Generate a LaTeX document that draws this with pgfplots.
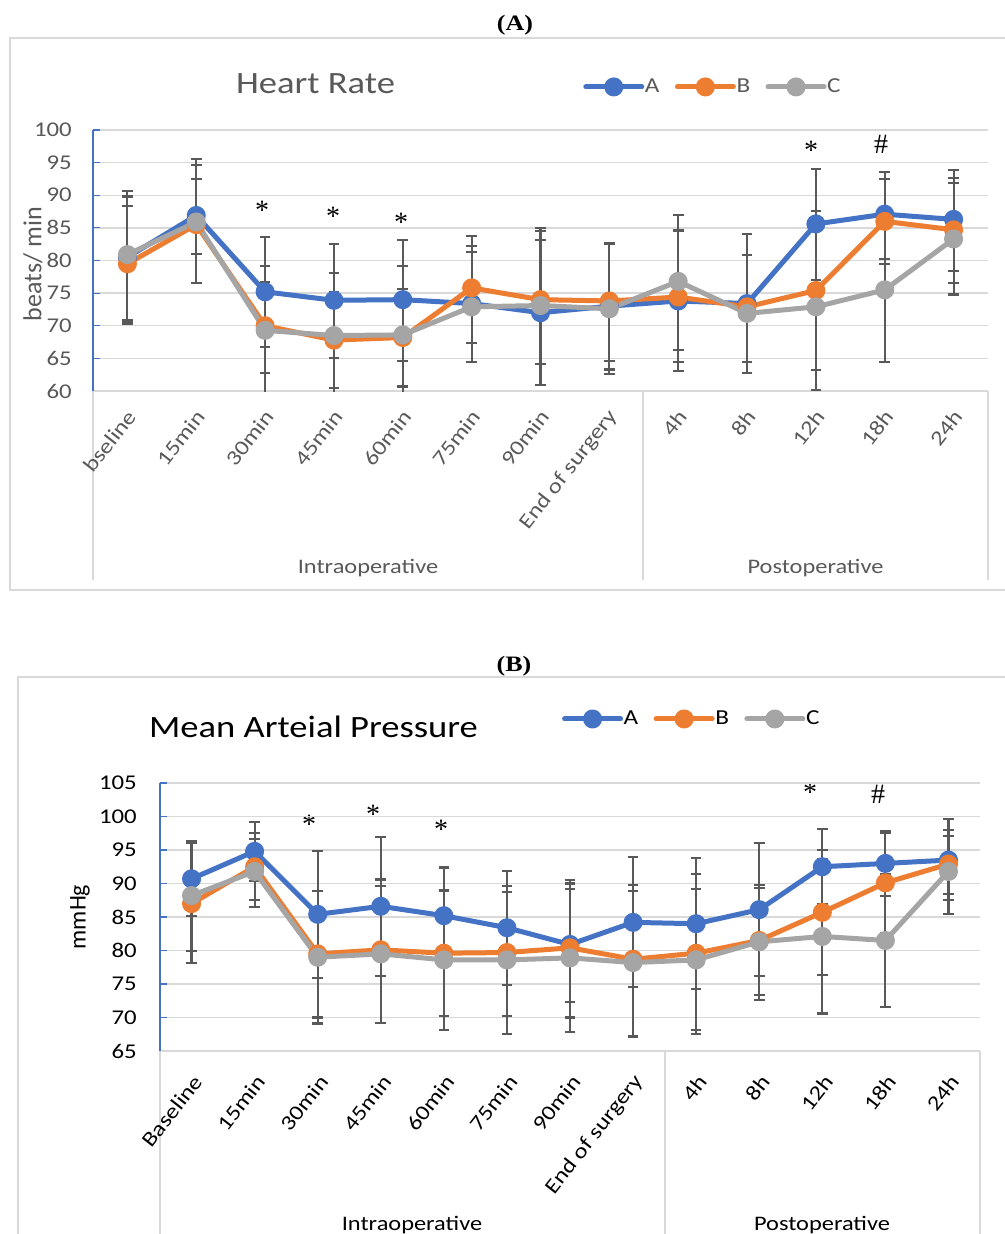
\documentclass[border=0pt]{standalone}
\usepackage{pgfplots}
\pgfplotsset{compat=1.18}
\usepackage{pgfplotstable}
\usepackage{fontspec}
\setmainfont{Carlito}[FakeStretch=1.18]
\newfontfamily\plainfont{Carlito}
\newfontfamily\serifb{Liberation Serif}[FakeStretch=1.18]
\newfontfamily\serifp{Liberation Serif}

\definecolor{cA}{HTML}{4472C4}
\definecolor{cB}{HTML}{ED7D31}
\definecolor{cC}{HTML}{A5A5A5}
\definecolor{eg}{HTML}{595959}
\definecolor{gl}{HTML}{D9D9D9}
\definecolor{tg}{HTML}{595959}

% Heart rate: x, mean, error plus, error minus
\pgfplotstableread{
x y ep em
0 80.5 10.2 10.2
1 86.9 5.6 5.9
2 75.2 8.4 8.4
3 73.9 8.6 8.8
4 74.0 9.2 9.4
5 73.4 8.8 9.0
6 72.0 11.2 11.1
7 73.0 9.7 9.7
8 73.8 10.8 10.8
9 73.4 10.6 10.6
10 85.6 8.4 8.6
11 87.1 6.4 6.9
12 86.3 7.6 7.9
}\hrA
\pgfplotstableread{
x y ep em
0 79.5 8.8 8.9
1 85.5 9.2 8.9
2 70.0 9.1 10.5
3 67.8 7.3 7.4
4 68.2 7.4 7.5
5 75.8 8.0 8.5
6 74.0 10.5 9.9
7 73.8 8.7 9.2
8 74.4 10.1 10.0
9 72.9 8.0 8.5
10 75.4 12.2 12.2
11 86.0 6.5 6.6
12 84.7 8.0 8.1
}\hrB
\pgfplotstableread{
x y ep em
0 80.9 8.9 10.0
1 85.9 9.6 9.3
2 69.3 7.4 6.5
3 68.5 9.6 9.6
4 68.6 10.5 10.5
5 72.9 8.4 8.5
6 73.1 11.9 12.2
7 72.6 10.0 10.0
8 76.8 10.2 10.5
9 71.9 9.0 9.2
10 72.9 12.6 12.7
11 75.5 11.0 11.1
12 83.3 8.6 8.5
}\hrC
% Mean arterial pressure
\pgfplotstableread{
x y ep em
0 90.7 5.5 5.5
1 94.8 4.4 4.4
2 85.4 9.5 9.5
3 86.6 10.4 10.4
4 85.2 7.2 7.2
5 83.4 8.5 8.5
6 80.9 9.6 8.6
7 84.2 9.7 9.7
8 84.0 9.75 9.75
9 86.1 10.0 9.9
10 92.5 5.6 5.6
11 93.0 4.8 4.8
12 93.5 6.1 6.0
}\mapA
\pgfplotstableread{
x y ep em
0 87.0 9.1 8.9
1 92.5 5.0 5.0
2 79.5 9.4 9.5
3 80.1 10.5 10.9
4 79.6 9.3 9.4
5 79.7 9.9 9.5
6 80.4 9.6 10.4
7 78.7 11.1 11.4
8 79.6 11.8 11.4
9 81.5 8.3 8.1
10 85.7 9.3 9.3
11 90.1 7.5 7.5
12 92.9 5.1 4.5
}\mapB
\pgfplotstableread{
x y ep em
0 88.2 8.1 8.3
1 91.8 4.9 5.3
2 79.0 9.9 9.9
3 79.5 10.1 10.3
4 78.6 10.4 10.4
5 78.6 10.1 11.0
6 78.9 10.3 11.1
7 78.2 10.7 11.1
8 78.6 10.6 11.1
9 81.3 8.0 8.7
10 82.1 11.5 11.5
11 81.5 9.9 9.9
12 91.8 5.3 6.3
}\mapC

\pgfplotsset{
  base/.style={
    scale only axis, xmin=-0.5, xmax=12.5,
    axis x line*=bottom, axis y line*=left,
    axis line style={-},
    x axis line style={draw=gl, line width=1.1pt},
    y axis line style={draw=cA, line width=0.8pt},
    ymajorgrids, grid style={draw=gl, line width=1.1pt},
    xtick={0,...,12},
    xtick style={draw=none},
    ytick style={draw=cA, line width=0.8pt},
    tick align=inside, major tick length=5pt,
    /pgf/number format/assume math mode=true,
    xticklabel style={rotate=52, anchor=east, inner sep=0pt},
    yticklabel style={anchor=east, inner sep=0pt},
    legend cell align=left,
    legend image code/.code={\draw[mark repeat=2,mark phase=2,line cap=round] plot coordinates {(0pt,0pt) (21pt,0pt) (42pt,0pt)};},
  },
  ln/.style={line width=3.75pt, line cap=round, line join=round, mark=*, mark size=5.25pt, mark options={solid}},
  eb/.style={forget plot, color=eg, line width=1.6pt, only marks, mark=none,
    error bars/.cd, y dir=both, y explicit, error mark=|,
    error bar style={line width=1.6pt},
    error mark options={line width=1.6pt, mark size=4pt}},
}

\begin{document}
\begin{tikzpicture}
\useasboundingbox (0pt,0pt) rectangle (753.75pt,-925.5pt);
\clip (0pt,0pt) rectangle (753.75pt,-925.5pt);
\fill[white] (0pt,0pt) rectangle (753.75pt,-925.5pt);

\begin{scope}[x=0.75pt,y=-0.75pt]
  % frames
  \draw[gl, line width=1.5pt] (1012,38) -- (10,38) -- (10,590) -- (1012,590);
  \draw[gl, line width=1.5pt] (1012,677) -- (18,677) -- (18,1245);
  % panel letters
  \node[anchor=base, font=\serifb\bfseries\fontsize{16.5}{16.5}\selectfont] at (515,31) {(A)};
  \node[anchor=base, font=\serifb\bfseries\fontsize{16.5}{16.5}\selectfont] at (514,671) {(B)};
  % titles
  \node[anchor=base, text=tg, font=\fontsize{23.25}{23.25}\selectfont] at (315.5,94) {Heart Rate};
  \node[anchor=base, text=black, font=\fontsize{23.25}{23.25}\selectfont] at (313.5,737) {Mean Arteial Pressure};
  % axis titles
  \node[rotate=90, text=tg, font=\plainfont\fontsize{19.5}{19.5}\selectfont] at (33,264) {beats/ min};
  \node[rotate=90, text=black, font=\plainfont\fontsize{18}{18}\selectfont] at (80,917) {mmHg};
  % category group separators
  \foreach \xx in {93,643,988} \draw[gl, line width=1.1pt] (\xx,391) -- (\xx,580);
  \foreach \xx in {160,665,980} \draw[gl, line width=1.1pt] (\xx,1051) -- (\xx,1245);
  % group labels
  \node[anchor=base, text=tg, font=\fontsize{15.5}{15.5}\selectfont] at (368,573) {Intraoperative};
  \node[anchor=base, text=tg, font=\fontsize{15.5}{15.5}\selectfont] at (815.5,573) {Postoperative};
  \node[anchor=base, text=black, font=\fontsize{15.5}{15.5}\selectfont] at (412,1230) {Intraoperative};
  \node[anchor=base, text=black, font=\fontsize{15.5}{15.5}\selectfont] at (822,1230) {Postoperative};
  % significance marks
  \begin{scope}[every node/.style={anchor=base, font=\serifp\fontsize{21}{21}\selectfont}]
    \node at (262,219) {*};
    \node at (333,225) {*};
    \node at (401,231) {*};
    \node at (811,160) {*};
    \node at (881,154) {\#};
    \node at (309,833) {*};
    \node at (373,823) {*};
    \node at (441,838) {*};
    \node at (810,801) {*};
    \node at (878,803) {\#};
  \end{scope}
\end{scope}

% ---------- Heart rate ----------
\begin{axis}[base,
  at={(69.75pt,-293.25pt)}, anchor=south west,
  width=671.25pt, height=195.75pt,
  ymin=60, ymax=100, ytick={60,65,...,100},
  yticklabel style={text=tg, font=\fontsize{15.75}{15.75}\selectfont, xshift=-15.75pt},
  xticklabel style={text=tg, font=\fontsize{15.75}{15.75}\selectfont, xshift=-11pt, yshift=-12.5pt},
  xticklabels={bseline,15min,30min,45min,60min,75min,90min,End of surgery,4h,8h,12h,18h,24h},
  legend style={draw=none, fill=none, legend columns=3, at={(0.5475,1.165)}, anchor=west,
    inner sep=0pt, text=tg, font=\fontsize{16}{16}\selectfont,
    nodes={inner xsep=0.5pt},
    /tikz/every even column/.append style={column sep=11pt}},
]
\addplot[eb] table[x=x,y=y,y error plus=ep,y error minus=em] {\hrA};
\addplot[eb] table[x=x,y=y,y error plus=ep,y error minus=em] {\hrB};
\addplot[eb] table[x=x,y=y,y error plus=ep,y error minus=em] {\hrC};
\addplot[ln, color=cA] table[x=x,y=y] {\hrA};
\addplot[ln, color=cB] table[x=x,y=y] {\hrB};
\addplot[ln, color=cC] table[x=x,y=y] {\hrC};
\legend{A,B,C}
\end{axis}

% ---------- Mean arterial pressure ----------
\begin{axis}[base,
  at={(120pt,-788.25pt)}, anchor=south west,
  width=615pt, height=201pt,
  ymin=65, ymax=105, ytick={65,70,...,105},
  yticklabel style={text=black, font=\fontsize{15.75}{15.75}\selectfont, xshift=-17.25pt},
  xticklabel style={text=black, font=\fontsize{15.75}{15.75}\selectfont, xshift=-13pt, yshift=-16pt},
  xticklabels={Baseline,15min,30min,45min,60min,75min,90min,End of surgery,4h,8h,12h,18h,24h},
  legend style={draw=none, fill=none, legend columns=3, at={(0.490,1.239)}, anchor=west,
    inner sep=0pt, text=black, font=\fontsize{16}{16}\selectfont,
    nodes={inner xsep=0.5pt},
    /tikz/every even column/.append style={column sep=11pt}},
]
\addplot[eb] table[x=x,y=y,y error plus=ep,y error minus=em] {\mapA};
\addplot[eb] table[x=x,y=y,y error plus=ep,y error minus=em] {\mapB};
\addplot[eb] table[x=x,y=y,y error plus=ep,y error minus=em] {\mapC};
\addplot[ln, color=cA] table[x=x,y=y] {\mapA};
\addplot[ln, color=cB] table[x=x,y=y] {\mapB};
\addplot[ln, color=cC] table[x=x,y=y] {\mapC};
\legend{A,B,C}
\end{axis}
\end{tikzpicture}
\end{document}
